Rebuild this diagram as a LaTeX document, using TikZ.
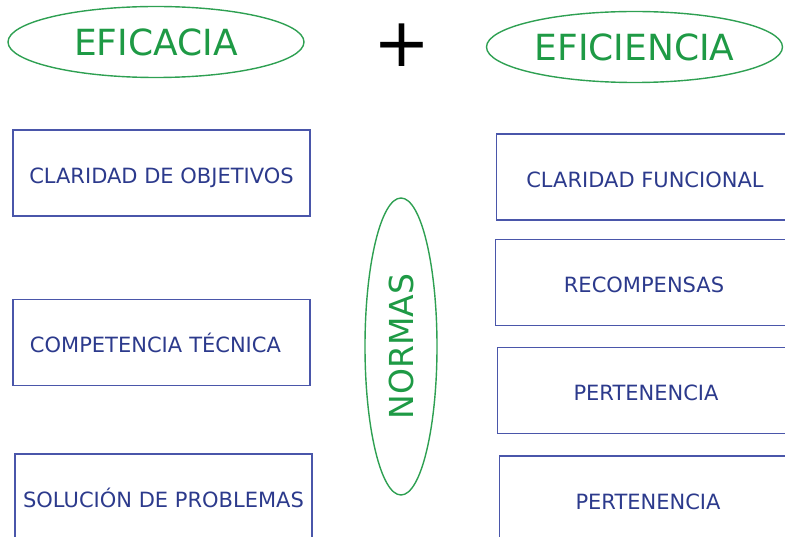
\documentclass[tikz,border=0pt]{standalone}
\usepackage{fontspec}
\setmainfont{DejaVu Sans}
\usetikzlibrary{shapes.geometric}
\definecolor{Leaf}{HTML}{1E9A45}
\definecolor{LeafLine}{HTML}{2EA052}
\definecolor{Navy}{HTML}{2C3A8C}
\definecolor{NavyLine}{HTML}{4A56AA}
\tikzset{
  pillar/.style={
    ellipse, draw=LeafLine, line width=1.4pt, text=Leaf,
    minimum width=296pt, minimum height=71pt, inner sep=0pt,
    font=\fontsize{36}{40}\selectfont
  },
  norm/.style={
    ellipse, draw=LeafLine, line width=1.4pt, text=Leaf,
    minimum width=297pt, minimum height=72pt, inner sep=0pt,
    rotate=90, font=\fontsize{33}{36}\selectfont
  },
  factor/.style={
    rectangle, draw=NavyLine, line width=1.3pt, text=Navy,
    minimum width=297pt, minimum height=86pt, inner sep=0pt,
    text height=20.5pt, text depth=0pt,
    font=\fontsize{21}{24}\selectfont
  }
}
\begin{document}
\begin{tikzpicture}[x=1pt,y=-1pt]
    \useasboundingbox (0,0) rectangle (785,537);
    \node[pillar] (eficacia) at (156,42) {EFICACIA};
    \node[pillar] (eficiencia) at (634.5,47) {EFICIENCIA};
    \node[font=\fontsize{68}{70}\selectfont, inner sep=0pt] (mas) at (401.5,45) {+};
    \node[norm] (normas) at (401,346.5) {NORMAS};
    % columna izquierda
    \node[factor] (objetivos) at (161.5,173) {CLARIDAD DE OBJETIVOS};
    \node[factor, text width=263pt, inner xsep=17pt, align=left] (tecnica) at (161.5,342.5) {COMPETENCIA TÉCNICA};
    \node[factor] (problemas) at (163.5,497) {SOLUCIÓN DE PROBLEMAS};
    % columna derecha
    \node[factor] (funcional) at (645,177) {CLARIDAD FUNCIONAL};
    \node[factor] (recompensas) at (644,282.5) {RECOMPENSAS};
    \node[factor] (pertenencia) at (646,390.5) {PERTENENCIA};
    \node[factor] (pertenenciab) at (648,499) {PERTENENCIA};
\end{tikzpicture}
\end{document}
